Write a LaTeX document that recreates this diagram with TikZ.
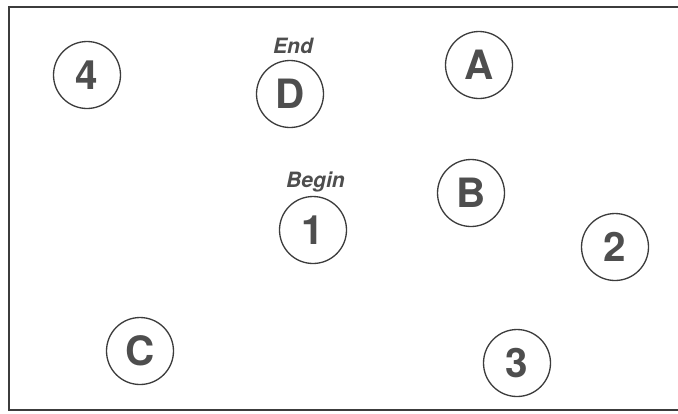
\documentclass[tikz,border=0pt]{standalone}
\usepackage{fontspec}
\setsansfont{TeX Gyre Heros}
\usetikzlibrary{positioning}
\definecolor{inkgray}{HTML}{3C3C3C}
\definecolor{txtgray}{HTML}{4E4E4E}
\begin{document}
\begin{tikzpicture}[
      x=0.02cm, y=-0.02cm,
      every node/.style={font=\sffamily, text=txtgray},
      spot/.style={draw=inkgray, line width=0.75pt, circle, minimum size=1.34cm,
                   inner sep=0pt, font=\sffamily\bfseries\fontsize{23}{23}\selectfont},
      tag/.style={font=\sffamily\bfseries\itshape\fontsize{12}{12}\selectfont, inner sep=0pt},
    ]
    \useasboundingbox (0, 0) rectangle (678, 413);
    % frame (open on the right)
    \draw[inkgray, line width=0.9pt] (678, 7) -- (9, 7) -- (9, 410) -- (678, 410);

    \node[spot] (n4) at (87, 75)   {4};
    \node[spot] (nD) at (290, 94)  {D};
    \node[spot] (nA) at (479, 65)  {A};
    \node[spot] (nB) at (471, 193) {B};
    \node[spot] (n1) at (313, 230) {1};
    \node[spot] (n2) at (615, 247) {2};
    \node[spot] (nC) at (140, 351) {C};
    \node[spot] (n3) at (517, 363) {3};

    \node[tag, above=0.11cm of nD, xshift=0.06cm] (end)   {End};
    \node[tag, above=0.07cm of n1, xshift=0.05cm] (begin) {Begin};
  \end{tikzpicture}
\end{document}
